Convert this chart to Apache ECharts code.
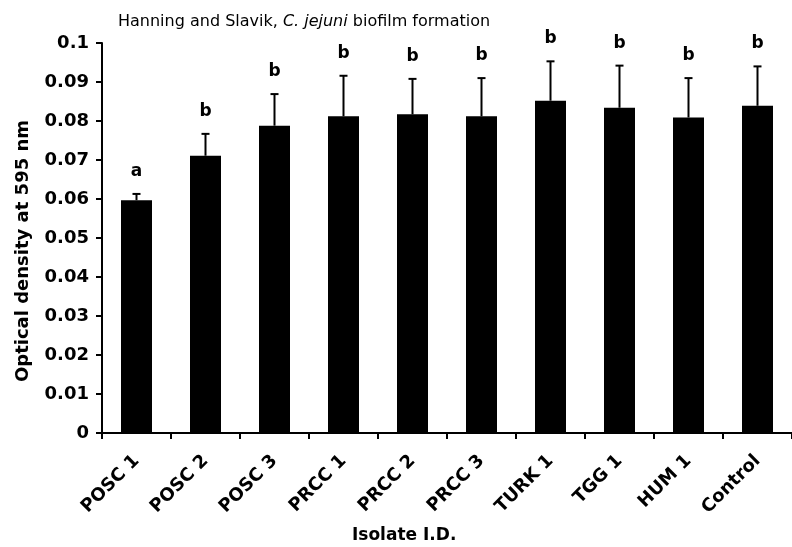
<!DOCTYPE html>
<html>
<head>
<meta charset="utf-8">
<script src="https://cdn.jsdelivr.net/npm/echarts@6/dist/echarts.min.js"></script>
<style>html,body{margin:0;padding:0;background:#fff;}#c{width:792px;height:547px;}</style>
</head>
<body>
<div id="c"></div>
<script>
const categories = ['POSC 1','POSC 2','POSC 3','PRCC 1','PRCC 2','PRCC 3','TURK 1','TGG 1','HUM 1','Control'];
const means = [0.0597, 0.0711, 0.0788, 0.0812, 0.0817, 0.0812, 0.0852, 0.0834, 0.0809, 0.0839];
const errorTops = [0.0613, 0.0767, 0.0869, 0.0916, 0.0908, 0.0910, 0.0953, 0.0942, 0.0910, 0.0940];
const letters = ['a','b','b','b','b','b','b','b','b','b'];
const yTicks = [0, 0.01, 0.02, 0.03, 0.04, 0.05, 0.06, 0.07, 0.08, 0.09, 0.1];

const FONT = 'DejaVu Sans';
const chart = echarts.init(document.getElementById('c'));
const errData = categories.map((c, i) => [i, means[i], errorTops[i], letters[i]]);

chart.setOption({
  animation: false,
  backgroundColor: '#fff',
  title: {
    left: 113, top: 9,
    text: '{n|Hanning and Slavik, }{i|C. jejuni}{n| biofilm formation}',
    textStyle: {
      fontWeight: 'normal',
      rich: {
        n: {fontFamily: FONT, fontSize: 16, color: '#000', fontWeight: 'normal'},
        i: {fontFamily: FONT, fontSize: 16, color: '#000', fontStyle: 'italic', fontWeight: 'normal'}
      }
    }
  },
  graphic: [{
    type: 'text', left: 352, top: 527,
    style: {text: 'Isolate I.D.', fontFamily: FONT, fontWeight: 'bold', fontSize: 17, fill: '#000'}
  }, {
    type: 'text', x: 23, y: 251, rotation: Math.PI / 2,
    style: {text: 'Optical density at 595 nm', fontFamily: FONT, fontWeight: 'bold', fontSize: 18, fill: '#000', align: 'center', verticalAlign: 'middle'}
  }],
  grid: {left: 102, top: 43, width: 700, height: 390},
  xAxis: {
    type: 'category', data: categories,
    axisLine: {lineStyle: {color: '#000', width: 2}},
    axisTick: {show: true, length: 6, lineStyle: {color: '#000', width: 2}},
    axisLabel: {rotate: 45, margin: 25, color: '#000', fontFamily: FONT, fontWeight: 'bold', fontSize: 18, interval: 0}
  },
  yAxis: {
    type: 'value', min: 0, max: 0.1, interval: 0.01,
    splitLine: {show: false},
    axisLine: {show: true, lineStyle: {color: '#000', width: 2}},
    axisTick: {show: true, length: 6, lineStyle: {color: '#000', width: 2}},
    axisLabel: {
      margin: 13, color: '#000', fontFamily: FONT, fontWeight: 'bold', fontSize: 18,
      formatter: v => { const k = yTicks.findIndex(t => Math.abs(t - v) < 1e-9); return k >= 0 ? String(yTicks[k]) : ''; }
    }
  },
  series: [{
    type: 'bar', data: means, barWidth: 31,
    itemStyle: {color: '#000'}
  }, {
    type: 'custom', data: errData, z: 5,
    renderItem: function (params, api) {
      const i = api.value(0);
      const p0 = api.coord([i, api.value(1)]);
      const p1 = api.coord([i, api.value(2)]);
      const capHalf = 4;
      return {
        type: 'group',
        children: [
          {type: 'line', shape: {x1: p0[0], y1: p0[1], x2: p1[0], y2: p1[1]}, style: {stroke: '#000', lineWidth: 2}},
          {type: 'line', shape: {x1: p1[0] - capHalf, y1: p1[1], x2: p1[0] + capHalf, y2: p1[1]}, style: {stroke: '#000', lineWidth: 2}},
          {type: 'text', x: p1[0], y: p1[1] - 14, style: {text: letters[i], fontFamily: FONT, fontWeight: 'bold', fontSize: 17, fill: '#000', align: 'center', verticalAlign: 'bottom'}}
        ]
      };
    }
  }]
});
</script>
</body>
</html>
